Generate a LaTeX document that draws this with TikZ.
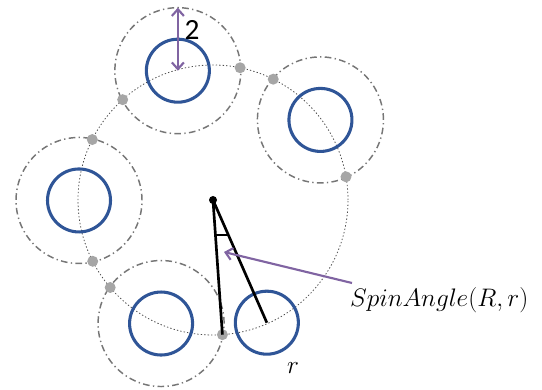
\documentclass[tikz,border=0pt]{standalone}
\usepackage{fontspec}
\newfontfamily\labelfont{Carlito}
\usetikzlibrary{arrows.meta}
\definecolor{ringblue}{RGB}{47,85,151}
\definecolor{arrowpurple}{RGB}{128,100,162}
\definecolor{dotgray}{RGB}{166,166,166}
\definecolor{linegray}{RGB}{118,118,118}

\begin{document}
\begin{tikzpicture}[x=0.75pt,y=0.75pt,
  ring/.style={draw=ringblue,line width=2.3pt},
  zone/.style={draw=linegray,line width=1.1pt,dash pattern=on 5pt off 2.5pt on 1pt off 2.5pt},
  track/.style={draw=black!70,line width=0.6pt,dash pattern=on 1pt off 1.6pt},
  hit/.style={fill=dotgray},
  spoke/.style={line width=2pt},
  mathlabel/.style={anchor=base west,font=\fontsize{18}{22}\selectfont,scale=1.1},
  barb/.tip={Straight Barb[length=5pt,width=9pt,line width=1.6pt]},
  pointer/.style={arrowpurple,line width=1.6pt}]
\useasboundingbox (0,0) rectangle (542,389);
\coordinate (c) at (213,189);

\foreach \a/\n in {105.2/1,36.7/2,180.2/3,247.2/4}{
  \draw[zone] ([shift={(\a:134)}]c) circle (63);
}
\draw[track] (c) circle (135);

\foreach \a [count=\i] in {105.2,36.7,180.2,247.2,293.7}
  \draw[ring] ([shift={(\a:134)}]c) coordinate (p\i) circle (31.5);

\foreach \a/\n in {105.2/1,36.7/2,180.2/3,247.2/4}{
  \fill[hit] ([shift={(\a+26.8:135)}]c) coordinate (h\n a) circle (5.5);
  \fill[hit] ([shift={(\a-26.8:135)}]c) coordinate (h\n b) circle (5.5);
}

\draw[spoke] (c) -- coordinate[pos=0.26] (s1) (h4a);
\draw[spoke] (c) -- coordinate[pos=0.285] (s2) (p5);
\draw[line width=1.3pt] (s1) -- (s2);
\fill (c) circle (4);

\coordinate (t1) at ([shift={(0,63)}]p1);
\draw[pointer,barb-barb] (p1) -- (t1);
\node[font=\labelfont\fontsize{22}{26}\selectfont] (two) at (192,359) {2};

\node[mathlabel] (spin) at (345,82) {$SpinAngle(R,r)$};
\coordinate (tail) at (352,106);
\coordinate (tip) at (224,137);
\draw[pointer,-barb] (tail) -- (tip);

\node[mathlabel] (rlab) at (282,16) {$r$};
\end{tikzpicture}
\end{document}
